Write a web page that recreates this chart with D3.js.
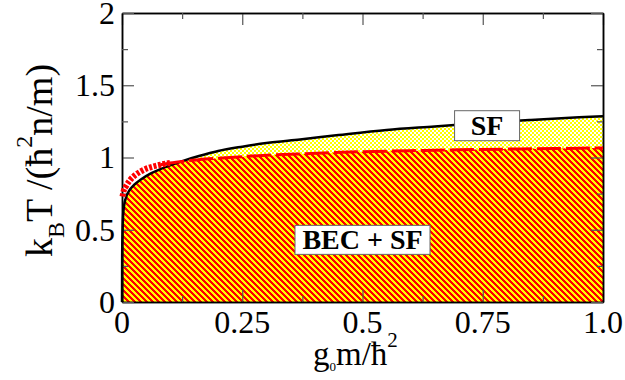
<!DOCTYPE html>
<html>
<head>
<meta charset="utf-8">
<script src="https://cdn.jsdelivr.net/npm/d3@7"></script>
<style>
  html, body { margin: 0; padding: 0; background: #fff; }
  #wrap { position: relative; width: 625px; height: 380px; }
  #wrap svg { position: absolute; left: 0; top: 0; display: block; }
</style>
</head>
<body>
<div id="wrap">
  <svg id="plot" width="625" height="380"></svg>
  <svg id="words" width="625" height="380"></svg>
</div>
<script>
// Superfluid transition line T_SF(g0)
const sfX = [0, 0.0003, 0.001, 0.002, 0.004, 0.008, 0.015, 0.025, 0.04, 0.06, 0.08, 0.1, 0.13, 0.16, 0.2, 0.25, 0.3, 0.37, 0.45, 0.55, 0.65, 0.75, 0.85, 0.95, 1.0];
const sfT = [0, 0.3, 0.47, 0.58, 0.66, 0.72, 0.77, 0.81, 0.85, 0.89, 0.92, 0.945, 0.98, 1.01, 1.045, 1.075, 1.10, 1.125, 1.155, 1.19, 1.215, 1.24, 1.26, 1.278, 1.285];

// BEC transition line T_BEC(g0)
const becX = [0.001, 0.004, 0.008, 0.017, 0.028, 0.037, 0.05, 0.065, 0.08, 0.1, 0.13, 0.16, 0.2, 0.27, 0.37, 0.5, 0.6, 0.7, 0.8, 0.9, 1.0];
const becT = [0.73, 0.775, 0.80, 0.845, 0.88, 0.90, 0.922, 0.938, 0.95, 0.962, 0.975, 0.985, 0.995, 1.01, 1.025, 1.04, 1.047, 1.053, 1.058, 1.062, 1.066];

// Axis ticks
const xTicks = [0, 0.25, 0.5, 0.75, 1.0];
const xTickLabels = ["0", "0.25", "0.5", "0.75", "1.0"];
const xMinor = [0.125, 0.375, 0.625, 0.875];
const yTicks = [0, 0.5, 1, 1.5, 2];
const yTickLabels = ["0", "0.5", "1", "1.5", "2"];
const yMinor = [0.25, 0.75, 1.25, 1.75];

// Phase labels
const phaseLabels = [
  { text: "SF", x: 0.759, y: 1.22, w: 65, h: 30 },
  { text: "BEC + SF", x: 0.5, y: 0.43, w: 135, h: 29 }
];

const SERIF = "'Liberation Serif'";
const plot = d3.select("#plot");
const words = d3.select("#words");
const L = 122, R = 603, T = 13, B = 302;
const x = d3.scaleLinear().domain([0, 1]).range([L, R]);
const y = d3.scaleLinear().domain([0, 2]).range([B, T]);

const sfPts = sfX.map((v, i) => [v, sfT[i]]);
const becPts = becX.map((v, i) => [v, becT[i]]);

const area = d3.area().x(d => x(d[0])).y0(y(0)).y1(d => y(d[1])).curve(d3.curveMonotoneX);
const line = d3.line().x(d => x(d[0])).y(d => y(d[1])).curve(d3.curveMonotoneX);

// fill patterns and clip regions
const defs = plot.append("defs");

// yellow / white checkerboard
const chk = defs.append("pattern").attr("id", "chk")
  .attr("patternUnits", "userSpaceOnUse").attr("width", 4).attr("height", 4);
chk.append("rect").attr("width", 4).attr("height", 4).attr("fill", "#fff");
chk.append("rect").attr("width", 2).attr("height", 2).attr("fill", "#ffff00");
chk.append("rect").attr("x", 2).attr("y", 2).attr("width", 2).attr("height", 2).attr("fill", "#ffff00");

// red / yellow diagonal stripes
const str = defs.append("pattern").attr("id", "stripes")
  .attr("patternUnits", "userSpaceOnUse").attr("width", 6).attr("height", 6);
str.append("rect").attr("width", 6).attr("height", 6).attr("fill", "#ffff00");
for (let i = 0; i < 6; i++) {
  for (let j = 0; j < 6; j++) {
    if ((((i - j) % 6) + 6) % 6 < 3) {
      str.append("rect").attr("x", i).attr("y", j).attr("width", 1).attr("height", 1)
        .attr("fill", "#ff0000");
    }
  }
}

defs.append("clipPath").attr("id", "plotClip")
  .append("rect").attr("x", L).attr("y", T).attr("width", R - L).attr("height", B - T);
defs.append("clipPath").attr("id", "sfClip")
  .append("path").attr("d", area(sfPts));

const fills = plot.append("g").attr("clip-path", "url(#plotClip)");
fills.append("path").attr("d", area(sfPts)).attr("fill", "url(#chk)");
fills.append("g").attr("clip-path", "url(#sfClip)")
  .append("path").attr("d", area([[0, becT[0]], ...becPts])).attr("fill", "url(#stripes)");

// axes frame with inward ticks (lines only)
function styleLines(g) {
  g.selectAll(".domain").attr("stroke", "#000").attr("stroke-width", 1.5);
  g.selectAll(".tick line").attr("stroke", "#555").attr("stroke-width", 1.2);
  g.selectAll("text").remove();
}
const frame = plot.append("g");
[[d3.axisBottom, B, xTicks, xMinor, x, true], [d3.axisTop, T, xTicks, xMinor, x, true],
 [d3.axisLeft, L, yTicks, yMinor, y, false], [d3.axisRight, R, yTicks, yMinor, y, false]]
  .forEach(([mk, pos, major, minor, sc, horiz]) => {
    const tr = horiz ? `translate(0,${pos})` : `translate(${pos},0)`;
    frame.append("g").attr("transform", tr)
      .call(mk(sc).tickValues(major).tickFormat("").tickSizeInner(-12).tickSizeOuter(0))
      .call(styleLines);
    frame.append("g").attr("transform", tr)
      .call(mk(sc).tickValues(minor).tickFormat("").tickSizeInner(-6).tickSizeOuter(0))
      .call(styleLines);
  });

// curves
const curves = plot.append("g");
curves.append("path").attr("d", line(sfPts))
  .attr("fill", "none").attr("stroke", "#000").attr("stroke-width", 2.5);
// BEC line: hatched thick band at small coupling, long dashes beyond
curves.append("path").attr("d", line(becPts.filter(d => d[0] <= 0.1)))
  .attr("fill", "none").attr("stroke", "#ff0000").attr("stroke-width", 6)
  .attr("stroke-dasharray", "3,1.6");
curves.append("path").attr("d", line(becPts.filter(d => d[0] >= 0.08)))
  .attr("fill", "none").attr("stroke", "#ff0000").attr("stroke-width", 3)
  .attr("stroke-dasharray", "24,5");

// phase label boxes
phaseLabels.forEach(p => {
  const cx = x(p.x), cy = y(p.y);
  plot.append("rect").attr("x", cx - p.w / 2).attr("y", cy - p.h / 2)
    .attr("width", p.w).attr("height", p.h)
    .attr("fill", "#fff").attr("stroke", "#666").attr("stroke-width", 1);
});

// ---- text layer ----
xTicks.forEach((v, i) => {
  words.append("text").attr("x", x(v)).attr("y", 333)
    .attr("text-anchor", "middle").attr("font-size", 32)
    .style("font-family", SERIF).text(xTickLabels[i]);
});
yTicks.forEach((v, i) => {
  words.append("text").attr("x", 115).attr("y", y(v)).attr("dy", "0.34em")
    .attr("text-anchor", "end").attr("font-size", 32)
    .style("font-family", SERIF).text(yTickLabels[i]);
});

phaseLabels.forEach(p => {
  words.append("text").attr("x", x(p.x)).attr("y", y(p.y)).attr("dy", "0.34em")
    .style("font-family", SERIF)
    .attr("text-anchor", "middle").attr("font-weight", "bold").attr("font-size", 28)
    .text(p.text);
});

const xt = words.append("text").attr("x", 313).attr("y", 365).attr("font-size", 33)
  .style("font-family", SERIF);
xt.append("tspan").text("g");
xt.append("tspan").attr("font-size", 13).attr("dy", 6).text("0");
xt.append("tspan").attr("dy", -6).text("m/ħ");
xt.append("tspan").attr("font-size", 21).attr("dy", -18).text("2");

const yt = words.append("text").attr("transform", "translate(52,257) rotate(-90)").attr("font-size", 38)
  .style("font-family", SERIF);
yt.append("tspan").text("k");
yt.append("tspan").attr("font-size", 24).attr("dy", 12).text("B");
yt.append("tspan").attr("dy", -12).text("T /(ħ");
yt.append("tspan").attr("font-size", 24).attr("dy", -20).text("2");
yt.append("tspan").attr("dy", 20).text("n/m)");
</script>
</body>
</html>
